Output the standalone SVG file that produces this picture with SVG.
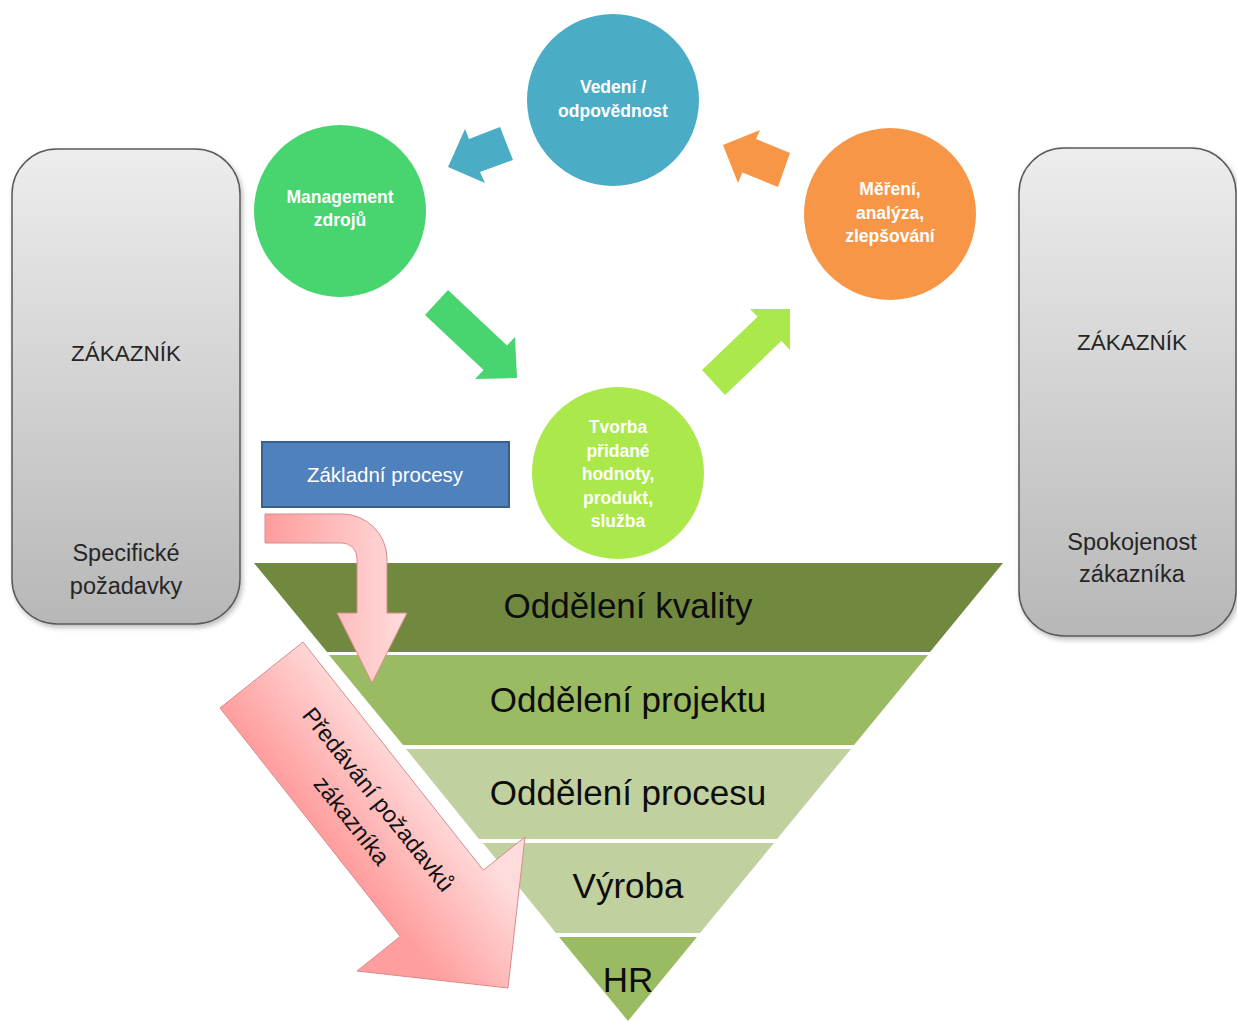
<svg xmlns="http://www.w3.org/2000/svg" width="1237" height="1021" viewBox="0 0 1237 1021">
  <style>
    .circ-text { font-family: "Liberation Sans", Arial, sans-serif; font-size: 17.5px; font-weight: bold; fill: #ffffff; text-anchor: middle; }
    .box-text { font-family: "Liberation Sans", Arial, sans-serif; fill: #262626; text-anchor: middle; }
    .band-text { font-family: "Liberation Sans", Arial, sans-serif; font-size: 35px; fill: #0d0d0d; text-anchor: middle; }
    .cust { stroke: #5a5a5a; stroke-width: 1.5; fill: url(#grayGrad); filter: url(#shadow); }
    .pink { stroke: #d98a8a; stroke-width: 1; }
  </style>
  <defs>
    <linearGradient id="grayGrad" x1="0" y1="0" x2="0" y2="1">
      <stop offset="0" stop-color="#ededed"/>
      <stop offset="1" stop-color="#b7b7b7"/>
    </linearGradient>
    <linearGradient id="bentGrad" gradientUnits="userSpaceOnUse" x1="265" y1="0" x2="410" y2="0">
      <stop offset="0" stop-color="#ff9c9c"/>
      <stop offset="1" stop-color="#ffdede"/>
    </linearGradient>
    <linearGradient id="bigGrad" gradientUnits="userSpaceOnUse" x1="230" y1="716" x2="320" y2="645">
      <stop offset="0" stop-color="#ff9e9e"/>
      <stop offset="1" stop-color="#ffdcdc"/>
    </linearGradient>
    <filter id="shadow" x="-10%" y="-10%" width="120%" height="120%">
      <feDropShadow dx="2" dy="3" stdDeviation="2.5" flood-color="#000" flood-opacity="0.25"/>
    </filter>
  </defs>

  <rect width="1237" height="1021" fill="#ffffff"/>

  <!-- customer boxes -->
  <g id="customer-left">
    <rect class="cust" x="12" y="149" width="228" height="475" rx="45" ry="45"/>
    <text class="box-text" x="126" y="361" font-size="22.5">ZÁKAZNÍK</text>
    <text class="box-text" x="126" y="561" font-size="23.5">Specifické</text>
    <text class="box-text" x="126" y="594" font-size="23.5">požadavky</text>
  </g>
  <g id="customer-right">
    <rect class="cust" x="1019" y="148" width="217" height="488" rx="45" ry="45"/>
    <text class="box-text" x="1132" y="350" font-size="22.5">ZÁKAZNÍK</text>
    <text class="box-text" x="1132" y="550" font-size="23.5">Spokojenost</text>
    <text class="box-text" x="1132" y="582" font-size="23.5">zákazníka</text>
  </g>

  <!-- cycle circles -->
  <g id="vedeni">
    <circle cx="613" cy="100" r="86" fill="#4bacc6"/>
    <text class="circ-text" x="613" y="93">Vedení /</text>
    <text class="circ-text" x="613" y="117">odpovědnost</text>
  </g>
  <g id="management">
    <circle cx="340" cy="211" r="86" fill="#48d46f"/>
    <text class="circ-text" x="340" y="203">Management</text>
    <text class="circ-text" x="340" y="226">zdrojů</text>
  </g>
  <g id="mereni">
    <circle cx="890" cy="214" r="86" fill="#f79646"/>
    <text class="circ-text" x="890" y="195">Měření,</text>
    <text class="circ-text" x="890" y="219">analýza,</text>
    <text class="circ-text" x="890" y="242">zlepšování</text>
  </g>
  <g id="tvorba">
    <circle cx="618" cy="473" r="86" fill="#aae84b"/>
    <text class="circ-text" x="618" y="433">Tvorba</text>
    <text class="circ-text" x="618" y="457">přidané</text>
    <text class="circ-text" x="618" y="480">hodnoty,</text>
    <text class="circ-text" x="618" y="504">produkt,</text>
    <text class="circ-text" x="618" y="527">služba</text>
  </g>

  <!-- basic processes label -->
  <g id="zakladni-procesy">
    <rect x="262" y="442" width="247" height="65" fill="#4f81bd" stroke="#3a5f8c" stroke-width="2"/>
    <text x="385" y="482" font-family="Liberation Sans, Arial, sans-serif" font-size="20.5" fill="#ffffff" text-anchor="middle">Základní procesy</text>
  </g>

  <!-- department funnel -->
  <g id="funnel">
    <g id="band-kvality">
      <polygon points="254,563 1003,563 930,652 327,652" fill="#71893f"/>
      <text class="band-text" x="628" y="618">Oddělení kvality</text>
    </g>
    <g id="band-projektu">
      <polygon points="329,655 928,655 854,745 403,745" fill="#9bbb62"/>
      <text class="band-text" x="628" y="712">Oddělení projektu</text>
    </g>
    <g id="band-procesu">
      <polygon points="406,749 851,749 777,839 479,839" fill="#c0d19f"/>
      <text class="band-text" x="628" y="805">Oddělení procesu</text>
    </g>
    <g id="band-vyroba">
      <polygon points="483,843 774,843 700,933 556,933" fill="#c0d19f"/>
      <text class="band-text" x="628" y="898">Výroba</text>
    </g>
    <g id="band-hr">
      <polygon points="559,937 697,937 628,1021" fill="#9bbb62"/>
      <text class="band-text" x="628" y="992" font-size="33">HR</text>
    </g>
  </g>

  <!-- connectors: cycle arrows and requirement flow arrows -->
  <g id="connectors">
    <polygon id="arrow-vedeni-management" points="448,167 465,129 469,139 500,127 513,160 480,172 485,183" fill="#4bacc6"/>
    <polygon id="arrow-management-tvorba" points="517,378 475,379 483.6,370 425,315 448,290 507,345.4 515,337" fill="#48d46f"/>
    <polygon id="arrow-tvorba-mereni" points="790,309 790,350 781.3,341.1 725,395 702,370 757.6,316.8 750,309" fill="#aae84b"/>
    <polygon id="arrow-mereni-vedeni" points="723,145 760,130 756.2,139.1 790,153 778,187 742.4,172.4 738,183" fill="#f79646"/>

    <path id="arrow-procesy" class="pink" fill="url(#bentGrad)"
          d="M265,514 L342,514 A45,45 0 0 1 387,559 L387,613 L407,613 L372,683 L337,613 L357,613 L357,558 A15,15 0 0 0 342,543 L265,543 Z"/>

    <g id="arrow-pozadavky">
      <polygon class="pink" fill="url(#bigGrad)" points="303,642 483.3,870.2 525,837 508,988 357,971 400.3,936.4 220,708"/>
      <g transform="translate(365,810) rotate(51.5)" font-family="Liberation Sans, Arial, sans-serif" font-size="23.5" fill="#111111" text-anchor="middle">
        <text x="0" y="-9">Předávání požadavků</text>
        <text x="0" y="25">zákazníka</text>
      </g>
    </g>
  </g>
</svg>
